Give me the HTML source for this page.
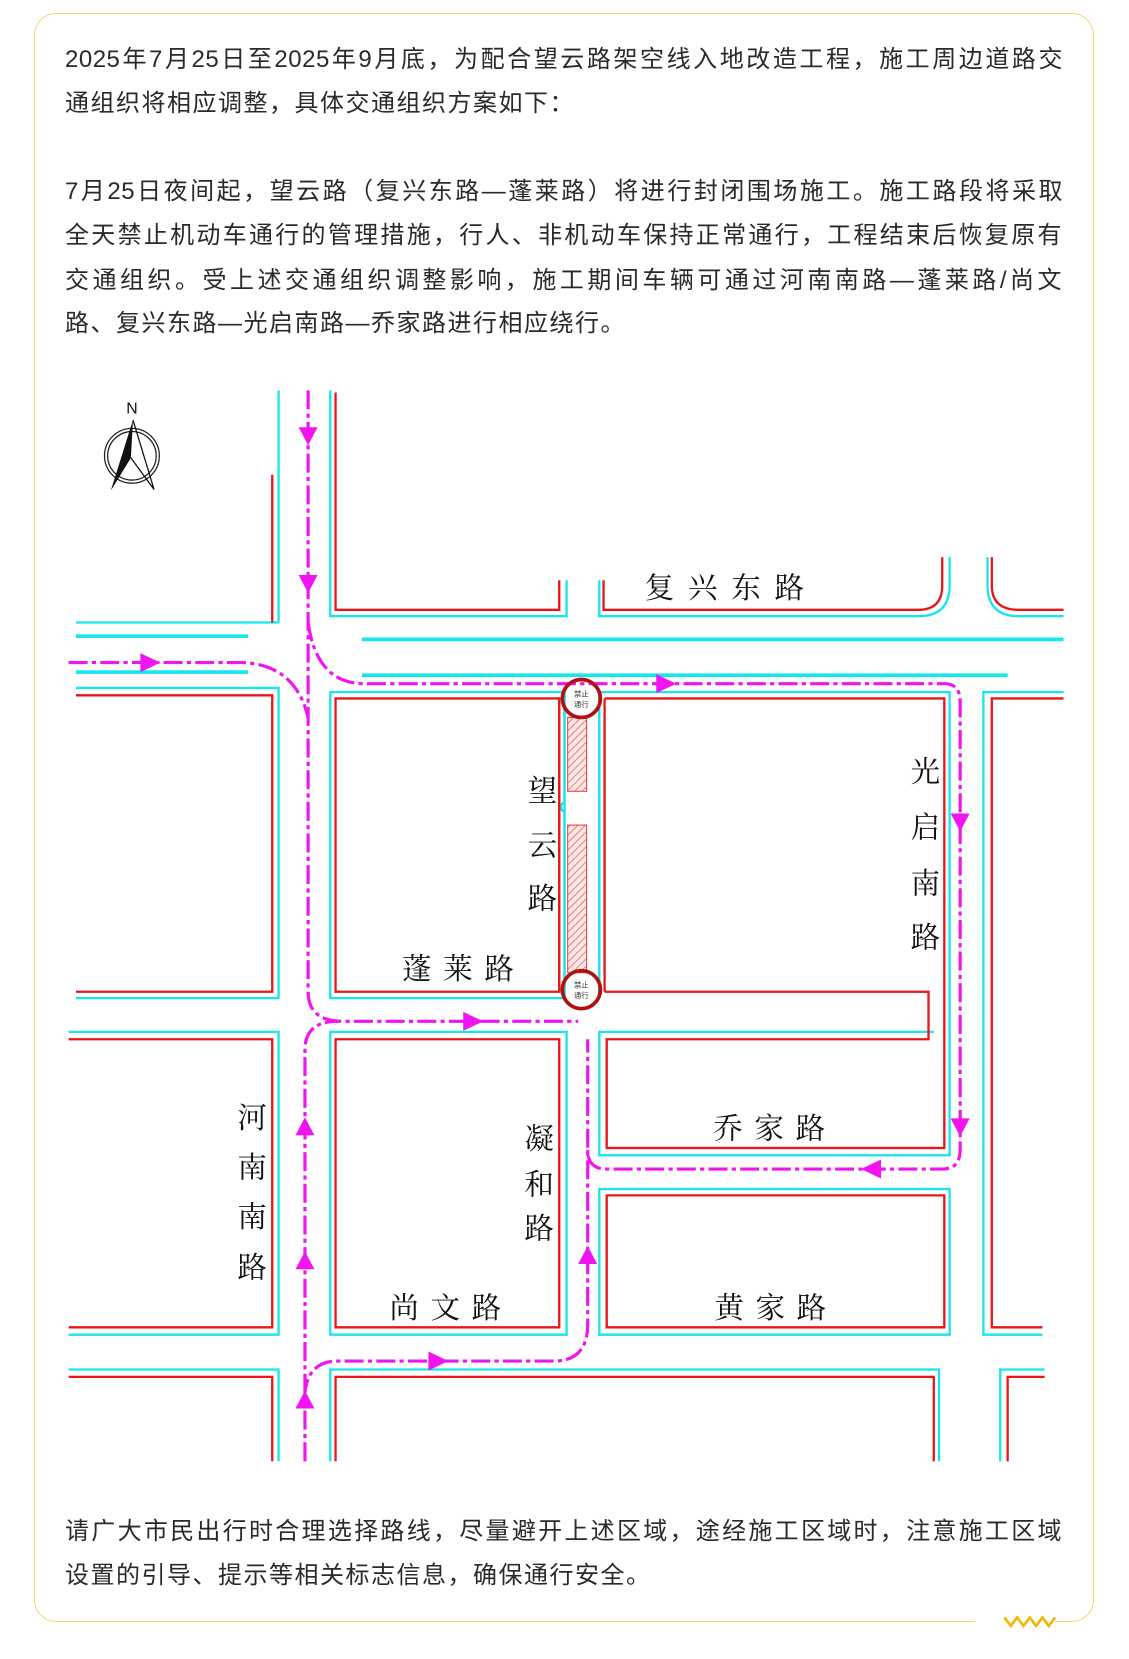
<!DOCTYPE html>
<html><head><meta charset="utf-8"><style>
html,body{margin:0;padding:0;background:#fff;}
body{width:1129px;height:1659px;position:relative;overflow:hidden;font-family:"Liberation Sans","Noto Sans CJK SC",sans-serif;color:#333;}
.box{position:absolute;left:34px;top:13px;width:1058px;height:1607px;border:1.5px solid #f6d365;border-radius:22px;}
.ln{position:absolute;left:65px;width:998px;font-size:24px;letter-spacing:1.5px;line-height:30px;text-align:justify;text-align-last:justify;white-space:nowrap;color:#2a2a2a;}
.ln.l{text-align-last:left;}
svg{position:absolute;left:0;top:0;}
</style></head><body>
<div class="box"></div>
<div style="position:absolute;left:975px;top:1610px;width:80px;height:20px;background:#fff;"></div>
<div class="ln" style="top:45px;letter-spacing:0.5px">2025年7月25日至2025年9月底，为配合望云路架空线入地改造工程，施工周边道路交</div>
<div class="ln l" style="top:89px">通组织将相应调整，具体交通组织方案如下：</div>
<div class="ln" style="top:177px;letter-spacing:0.5px">7月25日夜间起，望云路（复兴东路—蓬莱路）将进行封闭围场施工。施工路段将采取</div>
<div class="ln" style="top:221px">全天禁止机动车通行的管理措施，行人、非机动车保持正常通行，工程结束后恢复原有</div>
<div class="ln" style="top:266px">交通组织。受上述交通组织调整影响，施工期间车辆可通过河南南路—蓬莱路/尚文</div>
<div class="ln l" style="top:309px">路、复兴东路—光启南路—乔家路进行相应绕行。</div>
<div class="ln" style="top:1517px">请广大市民出行时合理选择路线，尽量避开上述区域，途经施工区域时，注意施工区域</div>
<div class="ln l" style="top:1561px">设置的引导、提示等相关标志信息，确保通行安全。</div>
<svg width="1129" height="1659" viewBox="0 0 1070 1572.4">
<defs>
<pattern id="h" width="5" height="5" patternUnits="userSpaceOnUse" patternTransform="rotate(45)"><rect width="5" height="5" fill="#fde8e8"/><line x1="0" y1="0" x2="0" y2="5" stroke="#e04040" stroke-width="1.2"/></pattern>
</defs>
<polyline points="952,1533 958,1541 964,1533 970,1541 976,1533 982,1541 988,1533 994,1541 1000,1533" fill="none" stroke="#f0b800" stroke-width="2.5"/>
<g fill="none" stroke-width="2.2">
<g stroke="#19e6ec">
<line x1="264" y1="370" x2="264" y2="590"/>
<line x1="72" y1="590" x2="264" y2="590"/>
<line x1="72" y1="603" x2="235" y2="603" stroke-width="3.5"/>
<line x1="72" y1="637" x2="235" y2="637" stroke-width="3.5"/>
<path d="M72 652 H264 V946 H72"/>
<path d="M313 370 V584 H537 V550"/>
<path d="M568 550 V584 H870 Q900 584 900 555 V528"/>
<path d="M936 528 V555 Q936 584 966 584 H1008"/>
<line x1="343" y1="606" x2="1008" y2="606" stroke-width="3.5"/>
<line x1="343" y1="640" x2="955" y2="640" stroke-width="3.5"/>
<path d="M313 946 V656 H535 V946 Z"/>
<path d="M568 946 V656 H900 V1095 H568 V978 H885"/>
<path d="M535 656 V760 Q528 765 535 770 V946"/>
<line x1="568" y1="656" x2="568" y2="946"/>
<path d="M1008 656 H932 V1265 H988"/>
<path d="M65 978 H264 V1265 H65"/>
<path d="M313 978 H537 V1265 H313 Z"/>
<path d="M568 1127 H900 V1265 H568 Z"/>
<path d="M65 1298 H264 V1385"/>
<path d="M313 1385 V1298 H890 V1385"/>
<path d="M948 1385 V1298 H990"/>
</g>
<g stroke="#e8161a">
<line x1="258" y1="450" x2="258" y2="590"/>
<path d="M318 372 V578 H530 V550"/>
<path d="M572 550 V578 H870 Q893 578 893 555 V528"/>
<path d="M940 528 V555 Q940 578 966 578 H1008"/>
<path d="M72 659 H258 V940 H72"/>
<path d="M318 662 H530 V940 H318 Z"/>
<path d="M530 662 V940 M573 662 V940"/>
<path d="M573 662 H895 V1088 H575 V985 H880 V940 H573"/>
<path d="M1008 662 H940 V1258 H988"/>
<path d="M65 985 H258 V1258 H65"/>
<path d="M318 985 H530 V1258 H318 Z"/>
<path d="M575 1133 H895 V1258 H575 Z"/>
<path d="M65 1305 H258 V1385"/>
<path d="M318 1385 V1305 H885 V1385"/>
<path d="M955 1385 V1305 H990"/>
</g>
<rect x="538" y="680" width="18" height="70" fill="url(#h)" stroke="#e04040" stroke-width="1"/>
<rect x="538" y="782" width="18" height="140" fill="url(#h)" stroke="#e04040" stroke-width="1"/>
<g stroke="#f014f0" stroke-width="3" stroke-dasharray="18,4,4,4">
<path d="M292 370 V940 Q292 968 325 968 H548"/>
<path d="M292 590 Q300 648 345 648 H895 Q910 648 910 665 V1090 Q910 1108 893 1108 H575 Q557 1108 557 1090"/>
<path d="M65 628 H230 Q280 630 292 680"/>
<path d="M289 1385 V1320 Q292 1290 320 1290 H525 Q557 1290 557 1255 V985"/>
<path d="M289 1320 V995 Q289 968 320 968"/>
</g>
</g>
<g fill="#f014f0">
<polygon points="283,405 301,405 292,422"/>
<polygon points="283,545 301,545 292,562"/>
<polygon points="133,619 133,637 152,628"/>
<polygon points="622,639 622,657 641,648"/>
<polygon points="901,771 919,771 910,788"/>
<polygon points="901,1060 919,1060 910,1077"/>
<polygon points="835,1099 835,1117 816,1108"/>
<polygon points="439,959 439,977 458,968"/>
<polygon points="280,1076 298,1076 289,1059"/>
<polygon points="280,1203 298,1203 289,1186"/>
<polygon points="280,1335 298,1335 289,1318"/>
<polygon points="548,1198 566,1198 557,1181"/>
<polygon points="406,1281 406,1299 425,1290"/>
</g>
<g fill="none" stroke="#b01010" stroke-width="3.5">
<circle cx="551" cy="662" r="18"/><circle cx="551" cy="938" r="18"/>
</g>
<g font-family="'Noto Sans CJK SC',sans-serif" font-size="7" fill="#333">
<text x="544" y="660">禁止</text><text x="544" y="670">通行</text>
<text x="544" y="936">禁止</text><text x="544" y="946">通行</text>
</g>
<text x="125" y="392" font-family="'Liberation Sans',sans-serif" font-size="15" text-anchor="middle" fill="#111">N</text>
<circle cx="125" cy="432" r="26" fill="none" stroke="#222" stroke-width="1.2"/>
<circle cx="125" cy="432" r="23" fill="none" stroke="#222" stroke-width="1.2"/>
<polygon points="126,398 105,465 124,434" fill="#111"/>
<polyline points="126,398 146,464 124,434" fill="none" stroke="#111" stroke-width="1.2"/>
<g font-family="'Noto Serif CJK SC','Noto Sans CJK SC',serif" font-size="28" fill="#111" text-anchor="middle">
<text x="625" y="567">复</text><text x="666" y="567">兴</text><text x="707" y="567">东</text><text x="748" y="567">路</text>
<text x="514" y="759">望</text><text x="514" y="811">云</text><text x="514" y="861">路</text>
<text x="395" y="928">蓬</text><text x="434" y="928">莱</text><text x="473" y="928">路</text>
<text x="877" y="741">光</text><text x="877" y="794">启</text><text x="877" y="847">南</text><text x="877" y="898">路</text>
<text x="690" y="1079">乔</text><text x="729" y="1079">家</text><text x="768" y="1079">路</text>
<text x="239" y="1069">河</text><text x="239" y="1116">南</text><text x="239" y="1163">南</text><text x="239" y="1211">路</text>
<text x="511" y="1089">凝</text><text x="511" y="1132">和</text><text x="511" y="1174">路</text>
<text x="383" y="1249">尚</text><text x="422" y="1249">文</text><text x="461" y="1249">路</text>
<text x="691" y="1249">黄</text><text x="730" y="1249">家</text><text x="769" y="1249">路</text>
</g>
</svg>
</body></html>
